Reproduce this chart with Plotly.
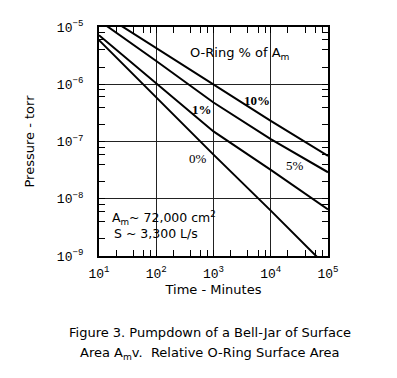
import plotly.graph_objects as go

# Data (time in minutes, pressure in torr)
time_min = [10, 100, 1000, 10000, 100000]
p_0pct = [5.9e-6, 5.9e-7, 5.9e-8, 6.2e-9, 6.2e-10]
p_1pct = [7.2e-6, 1.05e-6, 1.5e-7, 3.2e-8, 6.5e-9]
p_5pct = [1.3e-5, 2.55e-6, 4.8e-7, 1.1e-7, 2.9e-8]
p_10pct = [1.85e-5, 4.3e-6, 1.0e-6, 2.3e-7, 5.6e-8]

x_major = [10, 100, 1000, 10000, 100000]
x_labels = ["10<sup>1</sup>", "10<sup>2</sup>", "10<sup>3</sup>", "10<sup>4</sup>", "10<sup>5</sup>"]
y_major = [1e-9, 1e-8, 1e-7, 1e-6, 1e-5]
y_labels = ["10<sup>−9</sup>", "10<sup>−8</sup>", "10<sup>−7</sup>", "10<sup>−6</sup>", "10<sup>−5</sup>"]
minor_mult = [2, 4, 6, 8]

x_minor = [m * d for d in x_major[:-1] for m in minor_mult]
y_minor = [m * d for d in y_major[:-1] for m in minor_mult]

fig = go.Figure()
for ys in [p_0pct, p_1pct, p_5pct, p_10pct]:
    fig.add_trace(go.Scatter(x=time_min, y=ys, mode="lines",
                             line=dict(color="black", width=2), showlegend=False,
                             hoverinfo="skip"))

tickfont = dict(family="Liberation Mono", size=13, color="black")
axis_common = dict(
    type="log", showline=True, linecolor="black", linewidth=2, mirror="allticks",
    ticks="inside", ticklen=6, tickwidth=1, tickcolor="black",
    showgrid=True, gridcolor="#222222", gridwidth=1, zeroline=False,
    tickmode="array", tickfont=tickfont,
)

fig.update_xaxes(**axis_common, range=[1, 5], tickvals=x_major, ticktext=x_labels,
                 minor=dict(tickvals=x_minor, ticks="inside", ticklen=6, tickcolor="black",
                            showgrid=False),
                 ticklabelstandoff=4,
                 title=dict(text="Time - Minutes",
                            font=dict(family="DejaVu Sans", size=13, color="black"),
                            standoff=2))
fig.update_yaxes(**axis_common, range=[-9, -5], tickvals=y_major, ticktext=y_labels,
                 minor=dict(tickvals=y_minor, ticks="inside", ticklen=6, tickcolor="black",
                            showgrid=False),
                 ticklabelstandoff=11,
                 title=dict(text="Pressure - torr",
                            font=dict(family="DejaVu Sans", size=13, color="black"),
                            standoff=19))

sans = dict(family="DejaVu Sans", size=12.5, color="black")
sans13 = dict(family="DejaVu Sans", size=13, color="black")
serif = dict(family="Liberation Serif", size=13, color="black")

annos = [
    dict(text="O-Ring % of A<sub>m</sub>", x=0.616, y=0.886, font=sans13, xanchor="center"),
    dict(text="<b>10%</b>", x=0.692, y=0.677, font=serif, xanchor="center"),
    dict(text="<b>1%</b>", x=0.448, y=0.640, font=serif, xanchor="center"),
    dict(text="0%", x=0.432, y=0.424, font=serif, xanchor="center"),
    dict(text="5%", x=0.858, y=0.395, font=serif, xanchor="center"),
    dict(text="A<sub>m</sub>~ 72,000 cm<sup>2</sup>", x=0.05, y=0.165, font=sans, xanchor="left"),
    dict(text="S ~ 3,300 L/s", x=0.058, y=0.100, font=sans, xanchor="left"),
    dict(text="Figure 3. Pumpdown of a Bell-Jar of Surface", x=0.485, y=-0.336, font=sans13,
         xanchor="center"),
    dict(text="Area A<sub>m</sub>v.&nbsp; Relative O-Ring Surface Area", x=0.485, y=-0.425,
         font=sans13, xanchor="center"),
]
for a in annos:
    fig.add_annotation(xref="paper", yref="paper", showarrow=False, yanchor="middle", **a)

# page body has an 8px margin, so offset the figure's margins accordingly
fig.update_layout(
    width=397, height=378,
    margin=dict(l=91, r=77, t=19, b=130, autoexpand=False),
    paper_bgcolor="white", plot_bgcolor="white",
)

fig.write_html("out.html")
